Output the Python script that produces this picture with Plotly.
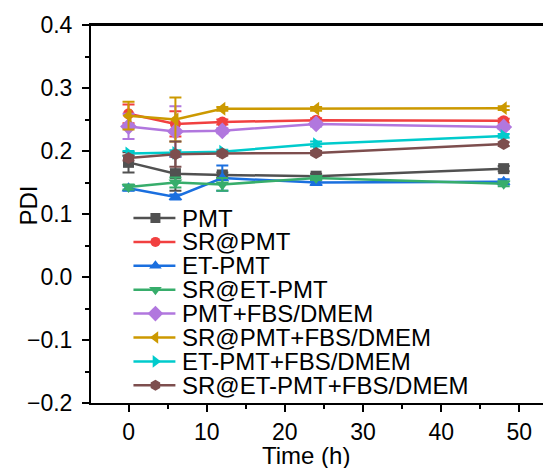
import plotly.graph_objects as go

time_h = [0, 6, 12, 24, 48]

series_names = ["PMT", "SR@PMT", "ET-PMT", "SR@ET-PMT",
                "PMT+FBS/DMEM", "SR@PMT+FBS/DMEM", "ET-PMT+FBS/DMEM", "SR@ET-PMT+FBS/DMEM"]

pmt = [0.182, 0.164, 0.162, 0.160, 0.172]
sr_pmt = [0.259, 0.243, 0.246, 0.249, 0.248]
et_pmt = [0.141, 0.127, 0.157, 0.150, 0.151]
sr_et_pmt = [0.143, 0.150, 0.147, 0.157, 0.148]
pmt_fbs = [0.239, 0.231, 0.232, 0.243, 0.238]
sr_pmt_fbs = [0.256, 0.250, 0.267, 0.267, 0.268]
et_pmt_fbs = [0.196, 0.197, 0.199, 0.211, 0.224]
sr_et_pmt_fbs = [0.189, 0.195, 0.196, 0.197, 0.211]

pmt_err = [0.016, 0.027, 0.004, 0.004, 0.004]
sr_pmt_err = [0.015, 0.020, 0.004, 0.003, 0.003]
et_pmt_err = [0.004, 0.004, 0.020, 0.004, 0.004]
sr_et_pmt_err = [0.004, 0.008, 0.010, 0.003, 0.004]
pmt_fbs_err = [0.020, 0.040, 0.004, 0.004, 0.003]
sr_pmt_fbs_err = [0.022, 0.035, 0.003, 0.003, 0.003]
et_pmt_fbs_err = [0.004, 0.004, 0.003, 0.004, 0.003]
sr_et_pmt_fbs_err = [0.004, 0.020, 0.003, 0.003, 0.003]

values = [pmt, sr_pmt, et_pmt, sr_et_pmt, pmt_fbs, sr_pmt_fbs, et_pmt_fbs, sr_et_pmt_fbs]
errors = [pmt_err, sr_pmt_err, et_pmt_err, sr_et_pmt_err, pmt_fbs_err, sr_pmt_fbs_err,
          et_pmt_fbs_err, sr_et_pmt_fbs_err]

colors = ["#515151", "#F14040", "#1A6FDF", "#37AD6B", "#B177DE", "#CC9900", "#00CBCC", "#7D4E4E"]
symbols = ["square", "circle", "triangle-up", "triangle-down", "diamond",
           "triangle-left", "triangle-right", "hexagon"]
sizes = [11, 11, 12, 12, 13, 12, 12, 12]

FONT = "Arial, Liberation Sans, sans-serif"
OFF = 8                      # page body margin of the browser
W, H = 551 - OFF, 468 - OFF
ML, MR, MT, MB = 90.5 - OFF, 0, 25 - OFF, 65
PW, PH = W - ML - MR, H - MT - MB


def paper_x(px):
    return (px - OFF - ML) / PW


def paper_y(py):
    return 1 - (py - OFF - MT) / PH


fig = go.Figure()

for name, v, e, c, s, sz in zip(series_names, values, errors, colors, symbols, sizes):
    fig.add_trace(go.Scatter(
        x=time_h, y=v, name=name, mode="lines+markers",
        line=dict(color=c, width=2.5),
        marker=dict(color=c, symbol=s, size=sz, line=dict(width=0)),
        error_y=dict(type="data", array=e, visible=True, color=c, thickness=2, width=6),
        showlegend=False,
    ))

# Compact legend drawn on a hidden overlay axis measured in page pixels
leg_y0, leg_dy = 218, 23.9
leg_x_line0, leg_x_line1, leg_x_mark, leg_x_text = 133, 175, 155, 180
for i, (name, c, s, sz) in enumerate(zip(series_names, colors, symbols, sizes)):
    yy = leg_y0 + i * leg_dy
    fig.add_trace(go.Scatter(
        x=[leg_x_line0, leg_x_line1], y=[yy, yy], xaxis="x2", yaxis="y2",
        mode="lines", line=dict(color=c, width=2.5), showlegend=False, hoverinfo="skip"))
    fig.add_trace(go.Scatter(
        x=[leg_x_mark], y=[yy], xaxis="x2", yaxis="y2",
        mode="markers", marker=dict(color=c, symbol=s, size=sz - 1, line=dict(width=0)),
        showlegend=False, hoverinfo="skip"))
    fig.add_annotation(x=leg_x_text, y=yy, xref="x2", yref="y2", text=name,
                       showarrow=False, xanchor="left", yanchor="middle",
                       font=dict(family=FONT, size=24, color="black"))

# Axis titles (paper coordinates so they can sit outside the plot area)
fig.add_annotation(x=paper_x(306), y=paper_y(455), xref="paper", yref="paper",
                   text="Time (h)", showarrow=False, xanchor="center", yanchor="middle",
                   font=dict(family=FONT, size=24, color="black"))
fig.add_annotation(x=paper_x(27), y=paper_y(206), xref="paper", yref="paper",
                   text="PDI", showarrow=False, textangle=-90,
                   xanchor="center", yanchor="middle",
                   font=dict(family=FONT, size=24, color="black"))

# top frame line
fig.add_shape(type="line", xref="paper", yref="paper", x0=0, x1=1, y0=1, y1=1,
              line=dict(color="black", width=2))

axis_common = dict(
    showgrid=False, zeroline=False, showline=True, linecolor="black", linewidth=2,
    ticks="outside", ticklen=7, tickwidth=2, tickcolor="black",
    tickfont=dict(family=FONT, size=23, color="black"),
)

fig.update_layout(
    width=W, height=H,
    margin=dict(l=ML, r=MR, t=MT, b=MB, pad=0),
    paper_bgcolor="white", plot_bgcolor="white",
    font=dict(family=FONT, size=23, color="black"),
    xaxis=dict(
        range=[-4.8, 54.05], dtick=10, tick0=0, mirror=True,
        minor=dict(ticks="outside", ticklen=4, tickwidth=2, dtick=5, tickcolor="black"),
        **axis_common,
    ),
    yaxis=dict(
        range=[-0.2, 0.4], dtick=0.1, tick0=0, tickformat=".1f", mirror=False,
        ticklabelstandoff=5,
        minor=dict(ticks="outside", ticklen=4, tickwidth=2, dtick=0.05, tickcolor="black"),
        **axis_common,
    ),
    xaxis2=dict(range=[ML + OFF, W + OFF - MR], overlaying="x", visible=False, fixedrange=True),
    yaxis2=dict(range=[H - MB + OFF, MT + OFF], overlaying="y", visible=False, fixedrange=True),
)

fig.write_html("out.html")
